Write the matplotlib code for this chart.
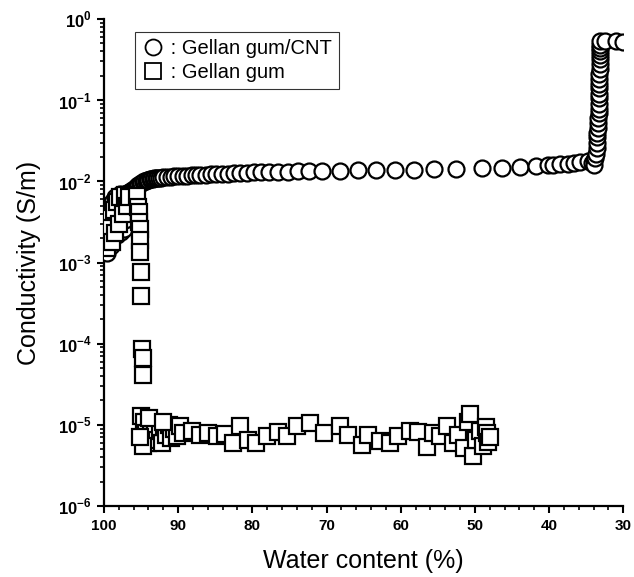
import matplotlib
matplotlib.use('Agg')
import matplotlib.pyplot as plt
from matplotlib.ticker import MultipleLocator, LogLocator, FixedLocator, NullFormatter

plt.rcParams['font.family'] = ['Liberation Sans', 'DejaVu Sans']
plt.rcParams['mathtext.fontset'] = 'custom'
plt.rcParams['mathtext.rm'] = 'Liberation Sans'
plt.rcParams['mathtext.bf'] = 'Liberation Sans:bold'

# Gellan gum/CNT (circles)
cnt_water = [99.8, 99.7, 99.6, 99.6, 99.5, 99.4, 99.3, 99.2, 99.1, 99.0, 98.9, 98.8, 98.7,
             98.6, 98.5, 98.4, 98.3, 98.2, 98.1, 98.0, 97.9, 97.8, 97.7, 97.6, 97.5,
             97.4, 97.3, 97.2, 97.1, 97.0, 96.9, 96.8, 96.6, 96.4, 96.2, 96.0, 95.8,
             95.6, 95.4, 95.2, 95.0, 94.8, 94.6, 94.4, 94.2, 94.0, 93.8, 93.6, 93.4,
             93.2, 93.0, 92.8, 92.6, 92.3,
             92.0, 91.5, 91.0, 90.5, 90.0, 89.4, 88.8, 88.2, 87.6, 87.0, 86.3, 85.6,
             84.9, 84.1, 83.3, 82.5, 81.6, 80.7, 79.8, 78.8, 77.7, 76.5, 75.2, 73.8,
             72.3, 70.6, 68.2, 65.8, 63.3, 60.8, 58.2, 55.5, 52.5, 49.0,
             46.3, 43.9, 41.8, 40.2, 39.4, 38.5, 37.5, 36.7, 35.8, 34.8, 34.2, 34.0,
             33.9, 33.8,
             33.7, 33.6, 33.6, 33.5, 33.5, 33.4, 33.4, 33.4, 33.3, 33.3, 33.3, 33.3,
             33.2, 33.2, 33.2, 33.2, 33.2, 33.1, 33.1, 33.1, 33.1, 33.1, 33.1, 33.1,
             33.1, 32.4, 31.0, 30.0]
cnt_cond = [1.4e-3, 2.2e-3, 1.7e-3, 1.3e-3, 3.0e-3, 2.0e-3, 2.5e-3, 4.0e-3, 1.6e-3, 3.4e-3, 5.5e-3, 5.0e-3, 2.8e-3,
            4.2e-3, 6.5e-3, 6.0e-3, 2.2e-3, 5.3e-3, 3.6e-3, 6.6e-3, 7.0e-3, 3.0e-3, 2.4e-3, 6.8e-3, 5.8e-3,
            4.5e-3, 2.6e-3, 7.0e-3, 3.3e-3, 6.0e-3, 7.1e-3, 7.2e-3, 7.4e-3, 7.6e-3, 7.8e-3, 8.1e-3, 8.4e-3,
            8.7e-3, 9.0e-3, 9.3e-3, 9.6e-3, 9.8e-3, 1.0e-2, 1.02e-2, 1.04e-2, 1.05e-2, 1.06e-2, 1.07e-2, 1.08e-2,
            1.09e-2, 1.1e-2, 1.1e-2, 1.11e-2, 1.11e-2,
            1.12e-2, 1.13e-2, 1.14e-2, 1.15e-2, 1.16e-2, 1.17e-2, 1.18e-2, 1.19e-2, 1.2e-2, 1.2e-2, 1.21e-2, 1.22e-2,
            1.23e-2, 1.24e-2, 1.25e-2, 1.26e-2, 1.27e-2, 1.28e-2, 1.29e-2, 1.29e-2, 1.3e-2, 1.31e-2, 1.32e-2, 1.33e-2,
            1.34e-2, 1.35e-2, 1.36e-2, 1.37e-2, 1.38e-2, 1.39e-2, 1.4e-2, 1.41e-2, 1.43e-2, 1.45e-2,
            1.48e-2, 1.5e-2, 1.55e-2, 1.58e-2, 1.6e-2, 1.62e-2, 1.66e-2, 1.7e-2, 1.75e-2, 1.8e-2, 1.7e-2, 1.85e-2,
            1.6e-2, 1.95e-2,
            0.022, 0.026, 0.030, 0.035, 0.040, 0.046, 0.052, 0.060, 0.069, 0.079, 0.091, 0.105,
            0.12, 0.14, 0.16, 0.18, 0.21, 0.24, 0.28, 0.32, 0.36, 0.40, 0.44, 0.48,
            0.53, 0.54, 0.54, 0.52]

# Gellan gum (squares)
gg_water = [99.6, 99.4, 99.3, 99.1, 98.9, 98.7, 98.5, 98.3, 98.0, 97.8, 97.5, 97.2, 96.9, 96.6,
            95.5, 95.4, 95.3, 95.3, 95.2, 95.2, 95.1, 95.0, 95.0, 94.9, 94.8, 94.7,
            95.0, 94.6, 94.3, 94.0, 93.7, 93.4, 93.1, 92.8, 92.5, 92.2, 91.9, 91.6,
            91.3, 91.0, 90.6, 90.2, 89.8, 89.3, 94.8, 93.9, 95.2, 92.0,
            88.1, 87.0, 86.0, 84.8, 83.7, 82.6, 81.6, 80.6, 79.5, 78.0, 76.6, 75.3,
            74.0, 72.2, 70.4, 68.2, 67.1, 65.2, 64.4, 62.8, 61.4, 60.3, 58.7, 57.6,
            56.4, 55.6, 54.7, 53.7, 53.0, 52.3, 51.5, 50.9, 50.6, 50.3, 49.8, 49.3,
            48.9, 48.5, 48.3, 48.2, 48.0]
gg_cond = [1.5e-3, 2.0e-3, 3.5e-3, 2.7e-3, 1.8e-3, 4.5e-3, 2.3e-3, 5.5e-3, 3.0e-3, 6.5e-3, 4.0e-3, 6.8e-3, 5.0e-3, 6.5e-3,
           6.6e-3, 4.9e-3, 4.2e-3, 3.2e-3, 2.6e-3, 1.9e-3, 1.35e-3, 7.6e-4, 3.9e-4, 8.5e-5, 6.6e-5, 4.1e-5,
           1.3e-5, 1.1e-5, 8e-6, 6e-6, 9e-6, 7e-6, 1.0e-5, 6.5e-6, 8.5e-6, 6e-6, 9.5e-6, 7.5e-6,
           1.0e-5, 6.8e-6, 8.8e-6, 7.2e-6, 9.8e-6, 8e-6, 5.5e-6, 1.2e-5, 7e-6, 1.1e-5,
           8.5e-6, 7.4e-6, 7.9e-6, 7.3e-6, 7.8e-6, 5.9e-6, 9.6e-6, 6.5e-6, 6e-6, 7.3e-6, 8.2e-6, 7.3e-6,
           9.6e-6, 1.05e-5, 7.9e-6, 9.6e-6, 7.4e-6, 5.7e-6, 7.4e-6, 6.4e-6, 5.9e-6, 7.3e-6, 8.5e-6, 8.2e-6,
           5.4e-6, 7.9e-6, 7.3e-6, 9.6e-6, 5.9e-6, 7.6e-6, 5.2e-6, 1.1e-5, 1.38e-5, 4.1e-6, 6.5e-6, 8.5e-6,
           5.5e-6, 9.5e-6, 7.9e-6, 6.2e-6, 7.0e-6]

y_ticks = [1e-6, 1e-5, 1e-4, 1e-3, 1e-2, 1e-1, 1e0]
y_labels = ['10$^{\\mathbf{-6}}$', '10$^{\\mathbf{-5}}$', '10$^{\\mathbf{-4}}$', '10$^{\\mathbf{-3}}$',
            '10$^{\\mathbf{-2}}$', '10$^{\\mathbf{-1}}$', '10$^{\\mathbf{0}}$']
x_ticks = [100, 90, 80, 70, 60, 50, 40, 30]

fig = plt.figure(figsize=(6.34, 5.77), dpi=100)
ax = fig.add_axes([0.164, 0.123, 0.819, 0.844])

ax.plot(cnt_water, cnt_cond, 'o', ms=11.5, mfc='white', mec='black', mew=1.6,
        label=' : Gellan gum/CNT', zorder=3)
ax.plot(gg_water, gg_cond, 's', ms=11, mfc='white', mec='black', mew=1.6,
        label=' : Gellan gum', zorder=4)

ax.set_yscale('log')
ax.set_xlim(100, 30)
ax.set_ylim(1e-6, 1e0)

ax.xaxis.set_major_locator(FixedLocator(x_ticks))
ax.xaxis.set_minor_locator(MultipleLocator(2))
ax.set_xticklabels([str(t) for t in x_ticks], fontweight='bold', fontsize=11)
ax.yaxis.set_major_locator(FixedLocator(y_ticks))
ax.set_yticklabels(y_labels, fontweight='bold', fontsize=12)
ax.yaxis.set_minor_locator(LogLocator(base=10, subs=range(2, 10), numticks=20))
ax.yaxis.set_minor_formatter(NullFormatter())

ax.tick_params(which='major', direction='out', length=5, width=1.5, pad=4, colors='black')
ax.tick_params(which='minor', direction='out', length=3, width=1.2)

for side in ['top', 'right']:
    ax.spines[side].set_visible(False)
for side in ['left', 'bottom']:
    ax.spines[side].set_linewidth(1.6)

ax.set_xlabel('Water content (%)', fontsize=18, labelpad=12)
ax.set_ylabel('Conductivity (S/m)', fontsize=18, labelpad=12)

leg = ax.legend(loc='upper left', bbox_to_anchor=(0.04, 0.995), fontsize=14.5,
                frameon=True, fancybox=False, edgecolor='black', handletextpad=0.05,
                handlelength=1.1, borderpad=0.35, labelspacing=0.25, markerscale=1.0)
leg.get_frame().set_linewidth(0.8)
for h in leg.legend_handles:
    h.set_markeredgewidth(1.3)

plt.savefig('out.png', dpi=100)
plt.close()
